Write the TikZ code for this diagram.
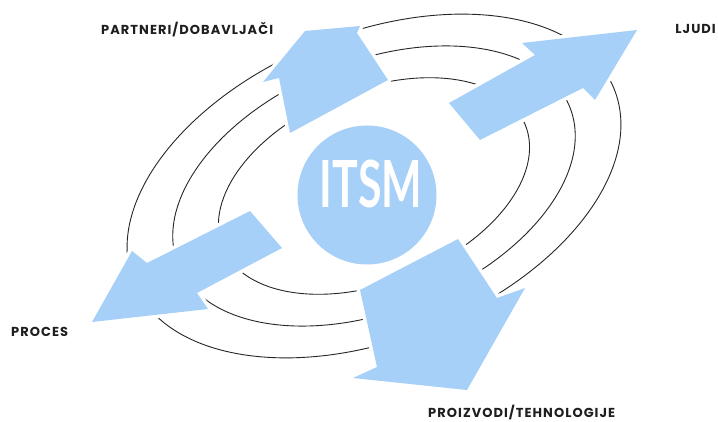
\documentclass[tikz,border=0pt]{standalone}
\usepackage{fontspec}
\setmainfont{Poppins}
\newfontfamily\labelfont[LetterSpace=8]{Poppins}
\newfontfamily\itsmfont{Lato}
\definecolor{ringblue}{RGB}{167,208,248}
\definecolor{labelgray}{RGB}{30,30,30}
\begin{document}
\begin{tikzpicture}[x=1pt,y=-1pt,
  ring/.style={draw=black!85, line width=0.9pt},
  blockarrow/.style={fill=ringblue, preaction={draw=white, line width=7pt, line join=round}},
  lbl/.style={inner sep=0pt, anchor=base west, text=labelgray,
    font=\labelfont\bfseries\fontsize{13}{15}\selectfont}
]
\useasboundingbox (0,0) rectangle (718,422);
\fill[white] (0,0) rectangle (718,422);

% three concentric tilted rings
\foreach \s in {1,0.815,0.63}
  \draw[ring, rotate around={22:(374,186)}] (374,186) ellipse ({259*\s} and {153*\s});

% block arrows leaving the centre
\fill[blockarrow] (290,133) -- (279,78) -- (263,82) -- (305,31) -- (360,26) -- (357,33) -- (388,80) -- cycle;
\fill[blockarrow] (449,103) -- (535,55) -- (522,43) -- (637,30) -- (595,100) -- (583,88) -- (480,140) -- cycle;
\fill[blockarrow] (250,211) -- (282,248) -- (197,293) -- (208,309) -- (92,322) -- (132,251) -- (147,263) -- cycle;
\fill[blockarrow] (458,239) -- (497,298) -- (525,288) -- (467,390) -- (353,378) -- (377,367) -- (360,290) -- cycle;

% centre disc
\node[circle, fill=ringblue, minimum size=139pt, inner sep=0pt] (hub) at (367,195) {};
\node[inner sep=0pt, text=white] (hubtext) at (371,184)
  {\itsmfont\bfseries\fontsize{65}{65}\selectfont\scalebox{0.66}[1]{ITSM}};

% labels
\node[lbl] (partneri) at (101,34.5) {PARTNERI/DOBAVLJAČI};
\node[lbl, anchor=base east] (ljudi) at (716,34) {LJUDI};
\node[lbl] (proces) at (11,336) {PROCES};
\node[lbl] (proizvodi) at (428,417) {PROIZVODI/TEHNOLOGIJE};
\end{tikzpicture}
\end{document}
